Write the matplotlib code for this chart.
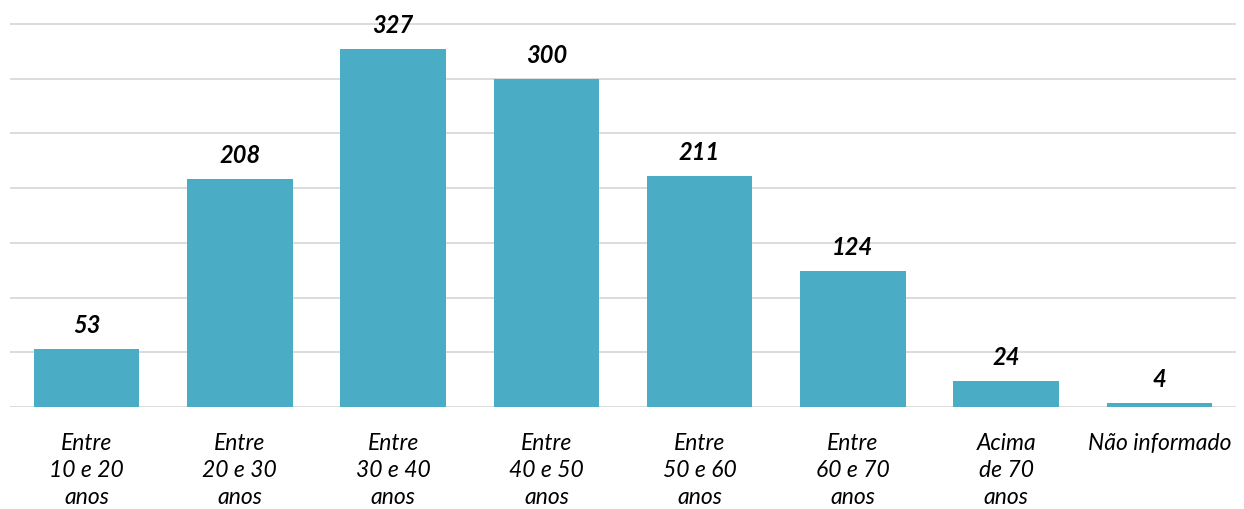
import matplotlib
matplotlib.use("Agg")
import matplotlib.pyplot as plt
import numpy as np

# dados
categorias = ["Entre\n10 e 20\nanos", "Entre\n20 e 30\nanos", "Entre\n30 e 40\nanos",
              "Entre\n40 e 50\nanos", "Entre\n50 e 60\nanos", "Entre\n60 e 70\nanos",
              "Acima\nde 70\nanos", "Não informado"]
valores = [53, 208, 327, 300, 211, 124, 24, 4]

plt.rcParams['font.family'] = ['Lato', 'DejaVu Sans']

fig = plt.figure(figsize=(12.44, 5.09), dpi=100)
ax = fig.add_axes([10 / 1244, 1 - 407 / 509, 1226 / 1244, 407 / 509])

x = np.arange(len(valores))
ax.bar(x, valores, width=0.69, color='#4BACC6', zorder=2)

for xi, v in zip(x, valores):
    ax.text(xi, v + 11, str(v), ha='center', va='bottom', fontsize=17,
            fontweight='bold', fontstyle='italic', color='black')

ax.set_xlim(-0.5, len(valores) - 0.5)
ax.set_ylim(0, 372)
ax.set_yticks(np.arange(0, 351, 50))
ax.yaxis.grid(True, color='#D9D9D9', linewidth=1.3, zorder=0)
ax.tick_params(axis='y', left=False, labelleft=False)
ax.tick_params(axis='x', length=0, pad=19)
ax.set_xticks(x)
ax.set_xticklabels(categorias, fontsize=16.5, fontstyle='italic', linespacing=1.35)
for s in ['top', 'right', 'left', 'bottom']:
    ax.spines[s].set_visible(False)

fig.savefig('out.png', dpi=100)
